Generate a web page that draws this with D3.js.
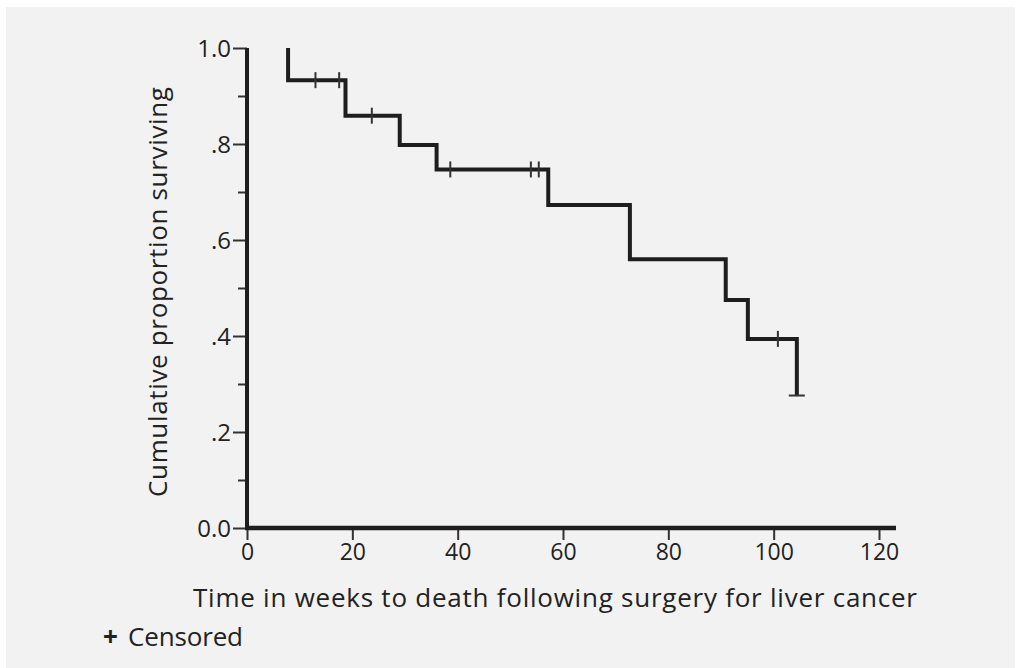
<!DOCTYPE html>
<html>
<head>
<meta charset="utf-8">
<script src="https://cdn.jsdelivr.net/npm/d3@7"></script>
<style>
  body { margin: 0; background: #fff; }
  text { font-family: "Open Sans", "Noto Sans", sans-serif; fill: #222; }
</style>
</head>
<body>
<script>
// Kaplan-Meier survival, weeks after surgery for liver cancer
const startTime = 7.8
const eventTimes = [7.8, 18.7, 29.0, 36.0, 57.2, 72.7, 90.9, 95.1, 104.4]
const survival = [0.933, 0.859, 0.798, 0.747, 0.673, 0.560, 0.475, 0.394, 0.276]
const censoredTimes = [13.0, 17.5, 23.7, 38.6, 53.9, 55.4, 100.8]
const xTicks = [0, 20, 40, 60, 80, 100, 120]
const yTicks = [0, 0.2, 0.4, 0.6, 0.8, 1.0]
const yTickLabels = ['0.0', '.2', '.4', '.6', '.8', '1.0']
const yMinorTicks = [0.1, 0.3, 0.5, 0.7, 0.9]

const W = 1017, H = 668
const svg = d3.select('body').append('svg').attr('width', W).attr('height', H)

// grey panel
svg.append('rect').attr('x', 6).attr('y', 7).attr('width', W - 8).attr('height', H - 7).attr('fill', '#f2f2f2')

let x = d3.scaleLinear().domain([0, 120]).range([247, 879])
let y = d3.scaleLinear().domain([0, 1]).range([528, 48])

//axe des y
svg.append('g')
  .attr('transform', 'translate(' + x(0) + ',0)')
  .call(d3.axisLeft(y).tickValues(yMinorTicks).tickSize(9).tickFormat(''))
  .call(g => g.select('.domain').remove())
  .selectAll('line').attr('stroke', '#333').attr('stroke-width', 2)
let yAxis = svg.append('g')
  .attr('transform', 'translate(' + x(0) + ',0)')
  .call(d3.axisLeft(y).tickValues(yTicks).tickSize(14).tickPadding(2)
    .tickFormat((d, i) => yTickLabels[i]))
yAxis.select('.domain').remove()
yAxis.selectAll('line').attr('stroke', '#333').attr('stroke-width', 2)
yAxis.selectAll('text').style('font-size', '24px').attr('fill', '#222').attr('dy', '0.36em')

//axe des x
let xAxis = svg.append('g')
  .attr('transform', 'translate(0,' + y(0) + ')')
  .call(d3.axisBottom(x).tickValues(xTicks).tickSize(12).tickPadding(4))
xAxis.select('.domain').remove()
xAxis.selectAll('line').attr('stroke', '#333').attr('stroke-width', 2)
xAxis.selectAll('text').style('font-size', '23px').attr('fill', '#222')

// axis lines
svg.append('line').attr('x1', x(0)).attr('x2', x(0)).attr('y1', y(1)).attr('y2', y(0) + 2)
  .attr('stroke', '#1e1e1e').attr('stroke-width', 4)
svg.append('line').attr('x1', x(0) - 2).attr('x2', 896).attr('y1', y(0)).attr('y2', y(0))
  .attr('stroke', '#1e1e1e').attr('stroke-width', 4.5)

// step curve
let pts = [[startTime, 1.0]]
let prev = 1.0
eventTimes.forEach((t, i) => {
  pts.push([t, prev])
  pts.push([t, survival[i]])
  prev = survival[i]
})
let line = d3.line().x(d => x(d[0])).y(d => y(d[1]))
svg.append('path').attr('d', line(pts))
  .attr('fill', 'none').attr('stroke', '#1e1e1e').attr('stroke-width', 4)
  .attr('stroke-linejoin', 'miter')

// level at a given time
function survAt(t) {
  let s = 1.0
  eventTimes.forEach((e, i) => { if (e <= t) s = survival[i] })
  return s
}

// censored marks
censoredTimes.forEach(t => {
  svg.append('line')
    .attr('x1', x(t)).attr('x2', x(t))
    .attr('y1', y(survAt(t)) - 8).attr('y2', y(survAt(t)) + 8)
    .attr('stroke', '#333').attr('stroke-width', 2)
})
// end cap of the last step
let lastT = eventTimes[eventTimes.length - 1], lastS = survival[survival.length - 1]
svg.append('line')
  .attr('x1', x(lastT) - 8).attr('x2', x(lastT) + 8)
  .attr('y1', y(lastS)).attr('y2', y(lastS))
  .attr('stroke', '#333').attr('stroke-width', 2)

// titles
svg.append('text').attr('x', 555).attr('y', 607).attr('text-anchor', 'middle')
  .style('font-size', '26px').attr('textLength', 724)
  .text('Time in weeks to death following surgery for liver cancer')
svg.append('text').attr('transform', 'translate(167,292) rotate(-90)').attr('text-anchor', 'middle')
  .style('font-size', '26px').attr('textLength', 410)
  .text('Cumulative proportion surviving')

// legend
svg.append('text').attr('x', 103).attr('y', 646).style('font-size', '26px').style('font-weight', 'bold').text('+')
svg.append('text').attr('x', 128).attr('y', 646).style('font-size', '26px').attr('textLength', 115).text('Censored')
</script>
</body>
</html>
